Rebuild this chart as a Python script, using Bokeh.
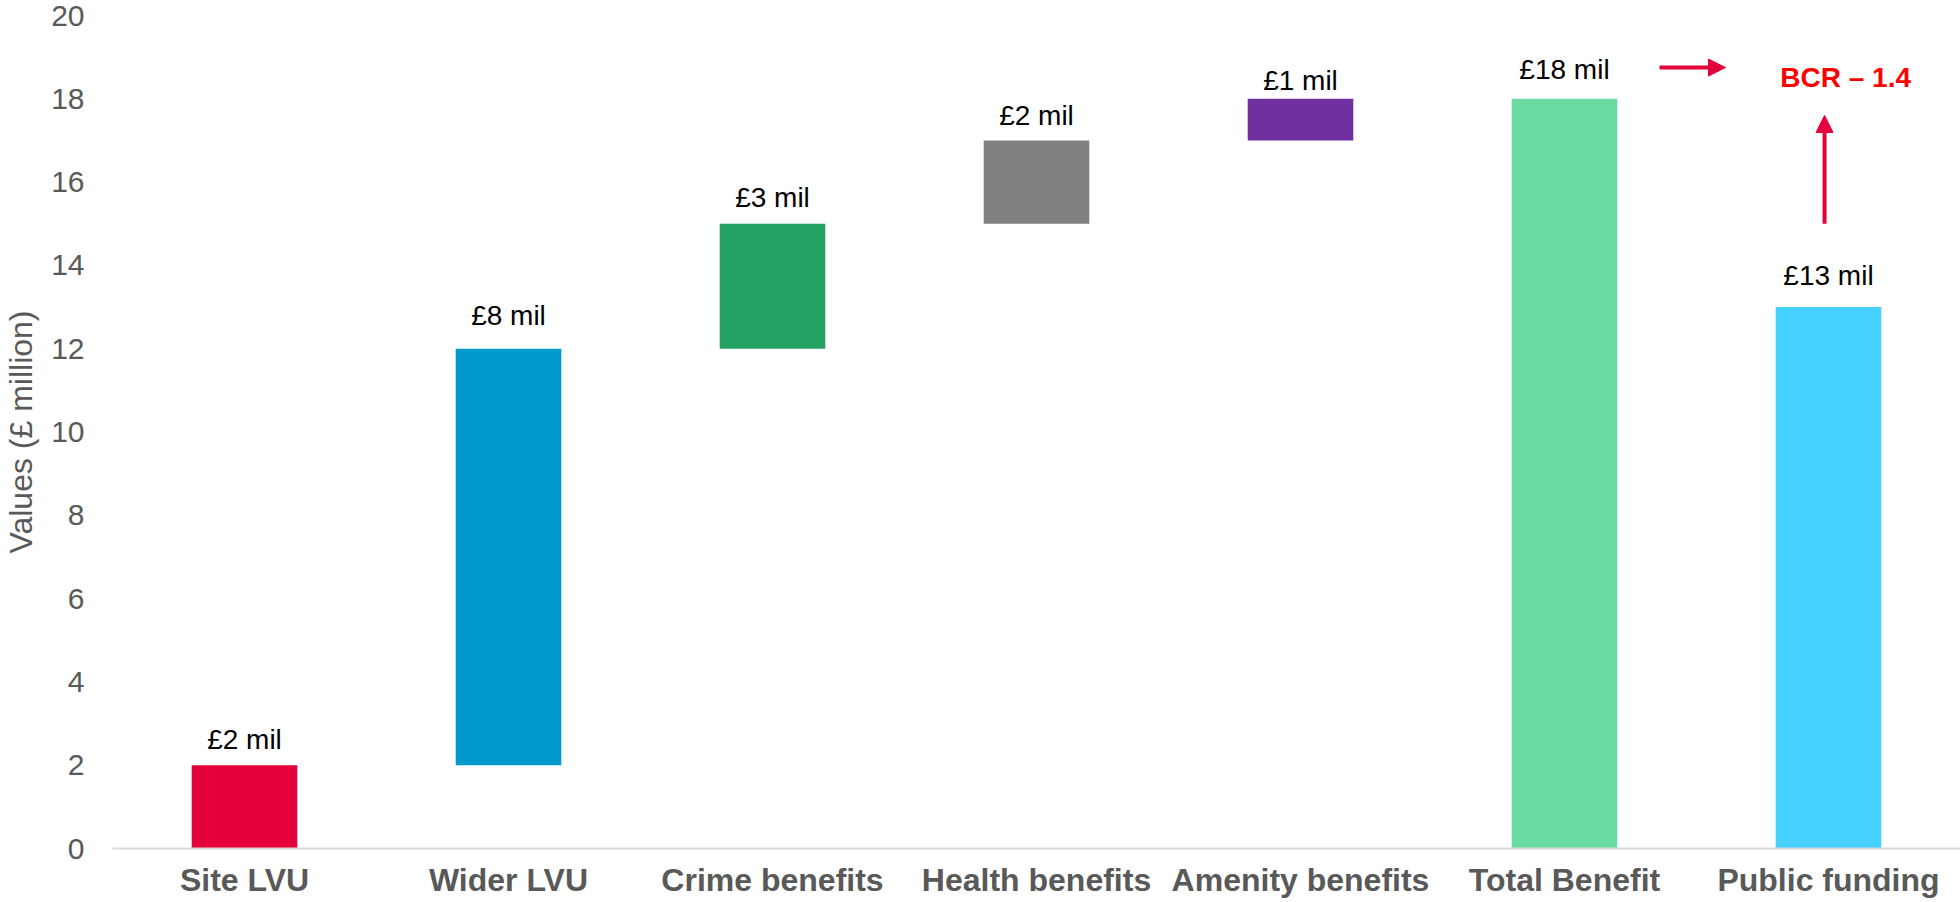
from bokeh.plotting import figure
from bokeh.models import ColumnDataSource, Arrow, NormalHead, Label, FixedTicker
from bokeh.core.properties import value
from bokeh.embed import file_html
from bokeh.resources import INLINE

# ---- data ----
categories = ["Site LVU", "Wider LVU", "Crime benefits", "Health benefits",
              "Amenity benefits", "Total Benefit", "Public funding"]
bottoms = [0, 2, 12, 15, 17, 0, 0]
tops = [2, 12, 15, 17, 18, 18, 13]
value_labels = ["£2 mil", "£8 mil", "£3 mil", "£2 mil", "£1 mil", "£18 mil", "£13 mil"]
colors = ["#E4003B", "#009ACD", "#24A263", "#808080", "#7030A0", "#69DBA0", "#45D0FF"]
y_ticks = [0, 2, 4, 6, 8, 10, 12, 14, 16, 18, 20]
bcr_text = "BCR \u2013 1.4"

# label gaps above the bars, in screen pixels (style only)
label_gaps = [18, 25, 18, 17, 10, 21, 24]
BASELINE_FIX = 8

FONT = "Liberation Sans"
ARROW_RED = "#E4003B"

src = ColumnDataSource(dict(x=categories, bottom=bottoms, top=tops,
                            label=value_labels, color=colors,
                            yoff=[-(g + BASELINE_FIX) for g in label_gaps]))

p = figure(x_range=categories, y_range=(0, 20), width=1960, height=902,
           output_backend="svg", toolbar_location=None,
           min_border_left=112, min_border_right=0, min_border_top=15,
           min_border_bottom=54)
p.outline_line_color = None
p.xgrid.visible = False
p.ygrid.visible = False

p.vbar(x="x", bottom="bottom", top="top", width=0.4, color="color",
       line_color=None, source=src)

p.text(x="x", y="top", text="label", source=src, text_align="center",
       text_baseline="alphabetic", y_offset="yoff", text_font=value(FONT),
       text_font_size="28px", text_color="#000000")

# y axis
p.yaxis.ticker = FixedTicker(ticks=y_ticks)
p.yaxis.axis_line_color = None
p.yaxis.major_tick_line_color = None
p.yaxis.minor_tick_line_color = None
p.yaxis.major_tick_out = 0
p.yaxis.major_label_standoff = 28
p.yaxis.major_label_text_font = FONT
p.yaxis.major_label_text_font_size = "30px"
p.yaxis.major_label_text_color = "#595959"
p.yaxis.axis_label = "Values (£ million)"
p.yaxis.axis_label_text_font = FONT
p.yaxis.axis_label_text_font_size = "32px"
p.yaxis.axis_label_text_font_style = "normal"
p.yaxis.axis_label_text_color = "#595959"
p.yaxis.axis_label_standoff = 9

# x axis
p.xaxis.axis_line_color = "#D9D9D9"
p.xaxis.axis_line_width = 2
p.xaxis.major_tick_line_color = None
p.xaxis.minor_tick_line_color = None
p.xaxis.major_tick_out = 0
p.xaxis.major_label_standoff = 13
p.xaxis.major_label_text_font = FONT
p.xaxis.major_label_text_font_size = "32px"
p.xaxis.major_label_text_font_style = "bold"
p.xaxis.major_label_text_color = "#595959"

# ---- annotations (positions relative to the Total Benefit / Public funding bars) ----
i_total = categories.index("Total Benefit") + 0.5
i_public = categories.index("Public funding") + 0.5
total_val = tops[categories.index("Total Benefit")]
public_val = tops[categories.index("Public funding")]

p.add_layout(Arrow(end=NormalHead(size=17, fill_color=ARROW_RED, line_color=ARROW_RED),
                   x_start=i_total + 0.36, y_start=total_val + 0.75,
                   x_end=i_total + 0.61, y_end=total_val + 0.75,
                   line_color=ARROW_RED, line_width=4))
p.add_layout(Arrow(end=NormalHead(size=17, fill_color=ARROW_RED, line_color=ARROW_RED),
                   x_start=i_public - 0.015, y_start=public_val + 2.0,
                   x_end=i_public - 0.015, y_end=public_val + 4.6,
                   line_color=ARROW_RED, line_width=4))
p.add_layout(Label(x=i_public + 0.065, y=total_val + 0.5, text=bcr_text,
                   text_align="center", text_baseline="alphabetic",
                   text_font=FONT, text_font_size="28px", text_font_style="bold",
                   text_color="#FF0000"))

open("out.html", "w").write(file_html(p, INLINE))
